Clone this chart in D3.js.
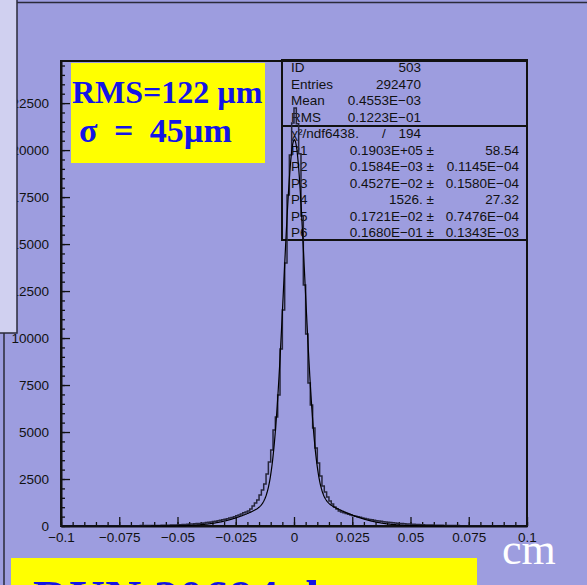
<!DOCTYPE html>
<html>
<head>
<meta charset="utf-8">
<script src="https://cdn.jsdelivr.net/npm/d3@7"></script>
<style>
  body { margin: 0; background: #9d9ddf; }
  .tick text { font-family: "Liberation Sans", Arial, sans-serif; font-size: 13.5px; fill: #111; }
  .stat { font-family: "Liberation Sans", Arial, sans-serif; font-size: 13.5px; fill: #111; }
  .big { font-family: "Liberation Serif", "Times New Roman", serif; font-weight: bold; fill: #1414e6; }
</style>
</head>
<body>
<div id="chart"></div>
<script>
// histogram 503 : 200 bins from -0.1 to 0.1 cm
var xRange = [-0.1, 0.1];
var counts = [
  3, 2, 4, 3, 2, 5, 3, 4, 4, 3,
  5, 4, 6, 5, 4, 6, 7, 5, 6, 8,
  7, 9, 8, 10, 9, 11, 12, 10, 13, 14,
  15, 14, 17, 18, 20, 19, 22, 24, 23, 27,
  29, 31, 33, 36, 38, 42, 45, 49, 53, 58,
  63, 70, 76, 84, 92, 101, 110, 119, 128, 139,
  150, 165, 180, 198, 216, 236, 258, 282, 306, 332,
  360, 390, 420, 455, 495, 540, 590, 640, 700, 750,
  798, 904, 1064, 1223, 1383, 1649, 1915, 2234, 2766, 3404,
  4042, 5106, 5798, 6968, 9415, 11489, 13989, 17606, 19734, 21436,
  22234, 21400, 19800, 16500, 12819, 10213, 7606, 6436, 5213, 4149,
  3351, 2660, 2128, 1809, 1543, 1330, 1170, 1011, 904, 798,
  745, 700, 660, 620, 585, 550, 520, 490, 460, 430,
  400, 375, 350, 328, 305, 285, 265, 248, 230, 215,
  200, 186, 172, 160, 148, 137, 127, 118, 109, 101,
  94, 87, 80, 74, 69, 64, 59, 55, 51, 47,
  44, 41, 38, 35, 33, 30, 28, 26, 24, 22,
  21, 19, 18, 17, 15, 14, 13, 12, 11, 11,
  10, 9, 9, 8, 8, 7, 7, 6, 6, 6,
  5, 5, 5, 4, 4, 4, 4, 3, 3, 3
];

// fit parameters P1..P6 (double gaussian) as printed in the stats box
var fitParams = [0.1903E+05, 0.1584E-03, 0.4527E-02, 1526., 0.1721E-02, 0.1680E-01];

var xTicks = [-0.1, -0.075, -0.05, -0.025, 0, 0.025, 0.05, 0.075, 0.1];
var yTicks = [0, 2500, 5000, 7500, 10000, 12500, 15000, 17500, 20000, 22500];

var statRows = [["ID", "503"], ["Entries", "292470"], ["Mean", "0.4553E\u221203"], ["RMS", "0.1223E\u221201"]];
var chiRow = ["\u03c7\u00b2/ndf6438.", "/", "194"];
var parRows = [
  ["P1", "0.1903E+05", "58.54"],
  ["P2", "0.1584E\u221203", "0.1145E\u221204"],
  ["P3", "0.4527E\u221202", "0.1580E\u221204"],
  ["P4", "1526.", "27.32"],
  ["P5", "0.1721E\u221202", "0.7476E\u221204"],
  ["P6", "0.1680E\u221201", "0.1343E\u221203"]
];

var svgWidth = 587;
var svgHeight = 585;
var margin = {top: 61, right: 60, bottom: 59, left: 61};
var width = svgWidth - margin.left - margin.right;
var height = svgHeight - margin.top - margin.bottom;

var svg = d3.select("#chart")
  .append("svg")
  .attr("width", svgWidth)
  .attr("height", svgHeight);

svg.append("rect")
  .attr("width", svgWidth).attr("height", svgHeight)
  .attr("fill", "#9d9ddf");

// slide panel border
svg.append("rect")
  .attr("x", 4).attr("y", 2.5)
  .attr("width", 640).attr("height", 640)
  .attr("fill", "none").attr("stroke", "#2a2a3a").attr("stroke-width", 1.5);

var chartGroup = svg.append("g")
  .attr("transform", `translate(${margin.left}, ${margin.top})`);

var xScale = d3.scaleLinear().domain(xRange).range([0, width]);
var yScale = d3.scaleLinear().domain([0, 24740]).range([height, 0]);

var fmt = d3.format("");

// minor ticks
chartGroup.append("g")
  .attr("transform", `translate(0,${height})`)
  .call(d3.axisBottom(xScale).tickValues(d3.range(-100, 101, 5).map(d => d / 1000))
    .tickSizeInner(-4).tickSizeOuter(0).tickFormat(""))
  .call(g => g.select(".domain").remove());
chartGroup.append("g")
  .call(d3.axisLeft(yScale).tickValues(d3.range(0, 24501, 500))
    .tickSizeInner(-4).tickSizeOuter(0).tickFormat(""))
  .call(g => g.select(".domain").remove());

// major ticks + labels
var bottomAxis = d3.axisBottom(xScale).tickValues(xTicks).tickSizeInner(-9).tickSizeOuter(0)
  .tickPadding(6).tickFormat(fmt);
var leftAxis = d3.axisLeft(yScale).tickValues(yTicks).tickSizeInner(-9).tickSizeOuter(0)
  .tickPadding(12).tickFormat(fmt);

chartGroup.append("g")
  .attr("transform", `translate(0,${height})`)
  .call(bottomAxis);
chartGroup.append("g")
  .call(leftAxis);

chartGroup.selectAll(".tick line").attr("stroke", "#111").attr("stroke-width", 1.3);
chartGroup.selectAll(".domain").attr("stroke", "#111").attr("stroke-width", 2);

// frame
chartGroup.append("rect")
  .attr("width", width).attr("height", height)
  .attr("fill", "none").attr("stroke", "#111").attr("stroke-width", 2);

// stats box
var box = chartGroup.append("g").attr("transform", `translate(${282 - margin.left}, ${60 - margin.top})`);
box.append("rect").attr("width", 245).attr("height", 180)
  .attr("fill", "none").attr("stroke", "#111").attr("stroke-width", 2);
box.append("line").attr("x1", 0).attr("x2", 245).attr("y1", 66).attr("y2", 66)
  .attr("stroke", "#111").attr("stroke-width", 2);

statRows.forEach((r, i) => {
  box.append("text").attr("class", "stat").attr("x", 9).attr("y", 12 + i * 16.5).text(r[0]);
  box.append("text").attr("class", "stat").attr("x", 139).attr("y", 12 + i * 16.5)
    .attr("text-anchor", "end").text(r[1]);
});
box.append("text").attr("class", "stat").attr("x", 9).attr("y", 78).text(chiRow[0]);
box.append("text").attr("class", "stat").attr("x", 100).attr("y", 78).text(chiRow[1]);
box.append("text").attr("class", "stat").attr("x", 139).attr("y", 78)
  .attr("text-anchor", "end").text(chiRow[2]);
parRows.forEach((r, i) => {
  var yy = 94.5 + i * 16.5;
  box.append("text").attr("class", "stat").attr("x", 9).attr("y", yy).text(r[0]);
  box.append("text").attr("class", "stat").attr("x", 152).attr("y", yy)
    .attr("text-anchor", "end").text(r[1] + " \u00b1");
  box.append("text").attr("class", "stat").attr("x", 237).attr("y", yy)
    .attr("text-anchor", "end").text(r[2]);
});

// histogram outline
var binW = (xRange[1] - xRange[0]) / counts.length;
var steps = [[xRange[0], 0]];
counts.forEach((c, i) => {
  steps.push([xRange[0] + i * binW, c]);
  steps.push([xRange[0] + (i + 1) * binW, c]);
});
steps.push([xRange[1], 0]);

var line = d3.line().x(d => xScale(d[0])).y(d => yScale(d[1]));
chartGroup.append("path")
  .datum(steps)
  .attr("d", line)
  .attr("fill", "none").attr("stroke", "#26263a").attr("stroke-width", 1.5);

// fit curve
var fitFn = x => fitParams[0] * Math.exp(-0.5 * Math.pow((x - fitParams[1]) / fitParams[2], 2))
  + fitParams[3] * Math.exp(-0.5 * Math.pow((x - fitParams[4]) / fitParams[5], 2));
var fitPts = d3.range(0, 1001).map(i => {
  var x = xRange[0] + i * (xRange[1] - xRange[0]) / 1000;
  return [x, fitFn(x)];
});
chartGroup.append("path")
  .datum(fitPts)
  .attr("d", line)
  .attr("fill", "none").attr("stroke", "#000").attr("stroke-width", 1.2);

// yellow label top
svg.append("rect").attr("x", 71).attr("y", 63).attr("width", 194).attr("height", 100).attr("fill", "#ffff00");
svg.append("text").attr("class", "big").attr("x", 72).attr("y", 103).attr("font-size", 32).text("RMS=122 \u00b5m");
svg.append("text").attr("class", "big").attr("x", 79).attr("y", 142).attr("font-size", 34)
  .attr("word-spacing", 8).text("\u03c3 = 45\u00b5m");

// light overlay box, top left
svg.append("rect").attr("x", -2).attr("y", -2).attr("width", 19).attr("height", 335)
  .attr("fill", "#d0d0f0").attr("stroke", "#2a2a3a").attr("stroke-width", 1.5);

// bottom yellow label
svg.append("rect").attr("x", 11).attr("y", 558).attr("width", 466).attr("height", 40).attr("fill", "#ffff00");
svg.append("text").attr("class", "big").attr("x", 33).attr("y", 615).attr("font-size", 50).text("RUN 20694 det.");

// unit
svg.append("text").attr("x", 502).attr("y", 564)
  .attr("font-family", "'Liberation Serif', 'Times New Roman', serif")
  .attr("font-size", 44).attr("fill", "#ffffff").text("cm");
</script>
</body>
</html>
